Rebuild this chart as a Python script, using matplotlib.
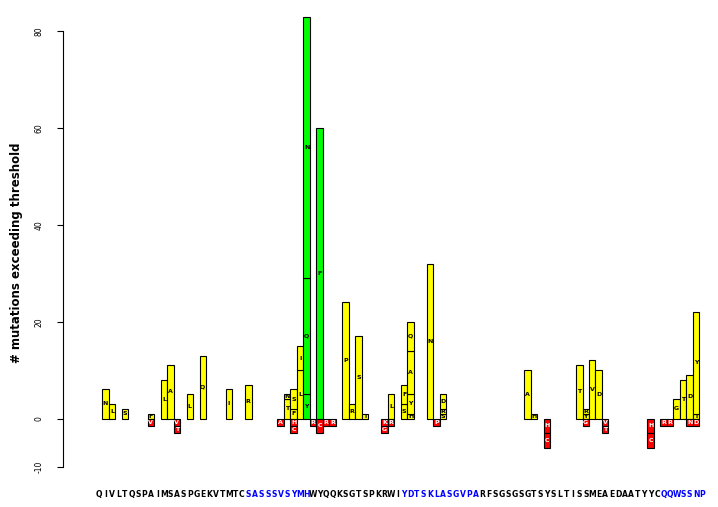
import matplotlib
matplotlib.use("Agg")
import matplotlib.pyplot as plt

# ---- data ----
sequence = list("QIVLTQSPAIMSASPGEKVTMTCSASSSVSYMHWYQQKSGTSPKRWIYDTSKLASGVPARFSGSGSGTSYSLTISSMEAEDAATYYCQQWSSNP")
blue_positions = list(range(23, 33)) + list(range(47, 59)) + list(range(87, 94))

# positive stacked segments (bottom to top)
up_pos = [1, 2, 4, 8, 10, 11, 14, 16, 20, 23,
          29, 29, 30, 30, 31, 31, 32, 32, 32, 34,
          38, 39, 40, 41, 45, 47, 47, 48, 48, 48,
          48, 51, 53, 53, 53, 66, 67, 74, 75, 75,
          76, 77, 89, 90, 91, 92, 92]
up_res = ["N", "L", "S", "F", "L", "A", "L", "Q", "I", "R",
          "T", "N", "F", "S", "L", "I", "Y", "Q", "N", "F",
          "P", "R", "S", "T", "L", "S", "F", "H", "Y", "A",
          "Q", "N", "S", "R", "D", "A", "H", "T", "Y", "R",
          "V", "D", "G", "T", "D", "T", "Y"]
up_cnt = [6, 3, 2, 1, 8, 11, 5, 13, 6, 7,
          4, 1, 2, 4, 10, 5, 5, 24, 54, 60,
          24, 3, 17, 1, 5, 3, 4, 1, 4, 9,
          6, 32, 1, 1, 3, 10, 1, 11, 1, 1,
          12, 10, 4, 8, 9, 1, 21]
green_positions = [32, 34]

# negative stacked segments (top to bottom)
down_pos = [8, 12, 12, 28, 30, 30, 33, 34, 35, 36,
            44, 44, 45, 52, 69, 69, 75, 78, 78, 85,
            85, 87, 88, 91, 92]
down_res = ["V", "V", "T", "A", "H", "C", "R", "C", "R", "R",
            "K", "G", "R", "P", "H", "C", "G", "V", "T", "H",
            "C", "R", "R", "N", "D"]
down_cnt = [1.5, 1.5, 1.5, 1.5, 1.5, 1.5, 1.5, 3, 1.5, 1.5,
            1.5, 1.5, 1.5, 1.5, 3, 3, 1.5, 1.5, 1.5, 3,
            3, 1.5, 1.5, 1.5, 1.5]

y_ticks = [-10, 0, 20, 40, 60, 80]

# ---- figure ----
W, H = 718, 507
fig = plt.figure(figsize=(W / 100, H / 100), dpi=100)
ax = fig.add_axes([62.7 / W, 30.4 / H, 649.3 / W, 469.5 / H])
ax.set_xlim(-5.59, 94.45)
ax.set_ylim(-12, 85)

base = {}
for p, r, c in zip(up_pos, up_res, up_cnt):
    b = base.get(p, 0)
    col = "#00FF00" if p in green_positions else "#FFFF00"
    ax.bar(p, c, bottom=b, width=1.0, color=col, edgecolor="black",
           linewidth=0.8, zorder=2)
    ax.text(p, b + c / 2, r, ha="center", va="center", fontsize=4.5,
            fontweight="bold", color="black", zorder=3)
    base[p] = b + c

nbase = {}
for p, r, c in zip(down_pos, down_res, down_cnt):
    b = nbase.get(p, 0)
    ax.bar(p, -c, bottom=b, width=1.0, color="#FF0000", edgecolor="black",
           linewidth=0.8, zorder=2)
    ax.text(p, b - c / 2, r, ha="center", va="center", fontsize=4.5,
            fontweight="bold", color="white", zorder=3)
    nbase[p] = b - c

for s in ["top", "right", "bottom"]:
    ax.spines[s].set_visible(False)
ax.spines["left"].set_bounds(-10, 80)
ax.spines["left"].set_linewidth(0.8)

ax.set_yticks(y_ticks)
ax.set_yticklabels([str(t) for t in y_ticks], rotation=90, va="center",
                   fontsize=5.5)
ax.tick_params(axis="y", length=4, width=0.8, pad=10)

ax.set_xticks(range(len(sequence)))
ax.set_xticklabels(sequence, fontsize=5.5, fontweight="bold")
ax.tick_params(axis="x", length=0, pad=9.6)
for i, lab in enumerate(ax.get_xticklabels()):
    lab.set_color("#0000FF" if i in blue_positions else "black")

fig.text(16.5 / W, 1 - 253 / H, "# mutations exceeding threshold",
         rotation=90, ha="center", va="center", fontsize=8.5,
         fontweight="bold")

fig.savefig("out.png", dpi=100)
